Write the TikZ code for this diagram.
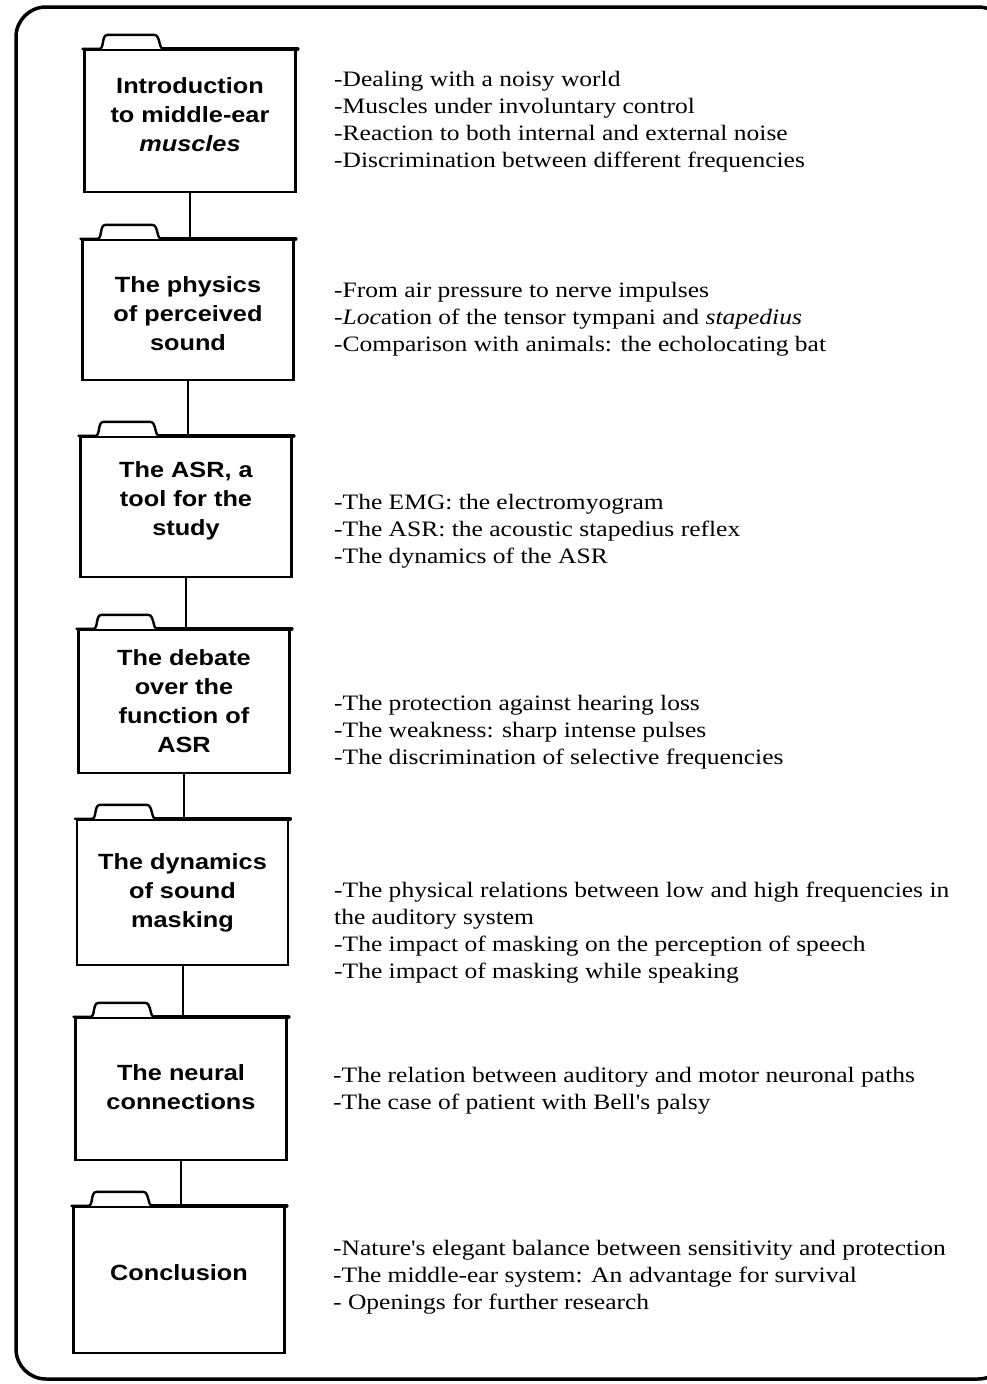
\documentclass[tikz,border=0pt]{standalone}
\usepackage{fontspec}
\newfontfamily\rt[FakeStretch=1.16]{Liberation Serif}
\newfontfamily\bx[FakeStretch=1.15]{Liberation Sans}
\newcommand\foldtab[1]{%
  \draw[tabline] ([xshift=-1pt]#1.north west) -- ++(17,0) .. controls +(5,0) and +(-6,0) .. ++(8,-14) -- ++(47,0) .. controls +(6,0) and +(-5,0) .. ++(9,14);
  \draw[topline] ([xshift=80pt]#1.north west) -- ([xshift=1pt]#1.north east);}
\begin{document}
\begin{tikzpicture}[x=1pt,y=-1pt,
  fold/.style={draw, line width=2.2pt, minimum width=211pt, inner sep=0pt},
  boxtext/.style={inner sep=0pt, align=center,
    font=\bx\bfseries\fontsize{22}{29}\selectfont},
  tabline/.style={line width=2.4pt, line join=round, line cap=round},
  topline/.style={line width=4pt, line cap=round},
  link/.style={line width=2pt},
  notes/.style={anchor=north west, inner sep=0pt, align=left,
    font=\rt\fontsize{22}{27}\selectfont}]
\useasboundingbox (0,0) rectangle (987,1384);
\clip (0,0) rectangle (987,1384);
\draw[line width=3.5pt, rounded corners=30pt] (16,7) rectangle (1008,1379);

\node[fold, minimum height=142pt] (b1) at (190,121) {};
\node[fold, minimum height=140pt] (b2) at (188,310) {};
\node[fold, minimum height=140pt] (b3) at (186,507) {};
\node[fold, minimum height=143pt] (b4) at (184,701.5) {};
\node[fold, minimum height=145pt] (b5) at (182.5,892.5) {};
\node[fold, minimum height=142pt] (b6) at (181,1089) {};
\node[fold, minimum height=146pt] (b7) at (179,1280) {};
\foreach \b in {b1,b2,b3,b4,b5,b6,b7}{\foldtab{\b}}

\node[boxtext] (t1) at ([yshift=6pt]b1.center) {Introduction\\to middle-ear\\{\itshape muscles}};
\node[boxtext] (t2) at ([yshift=-4pt]b2.center) {The  physics\\of perceived\\sound};
\node[boxtext] (t3) at ([yshift=6pt]b3.center) {The ASR, a\\tool for the\\study};
\node[boxtext] (t4) at (b4.center) {The debate\\over the\\function of\\ASR};
\node[boxtext] (t5) at (b5.center) {The dynamics\\of sound\\masking};
\node[boxtext] (t6) at ([yshift=2pt]b6.center) {The neural\\connections};
\node[boxtext] (t7) at ([yshift=7pt]b7.center) {Conclusion};

\draw[link] (b1.south) -- (b1.south |- b2.north);
\draw[link] (b2.south) -- (b2.south |- b3.north);
\draw[link] (b3.south) -- (b3.south |- b4.north);
\draw[link] (b4.south) -- (b4.south |- b5.north);
\draw[link] (b5.south) -- (b5.south |- b6.north);
\draw[link] (b6.south) -- (b6.south |- b7.north);

\node[notes] (n1) at (334,71) {-Dealing with a noisy world\\-Muscles under involuntary control\\-Reaction to both internal and external noise\\-Discrimination between different frequencies};
\node[notes] (n2) at (334,282) {-From air pressure to nerve impulses\\-{\itshape Loc}ation of the tensor tympani and {\itshape stapedius}\\-Comparison with animals: the echolocating bat};
\node[notes] (n3) at (334,494) {-The EMG: the electromyogram\\-The ASR: the acoustic stapedius reflex\\-The dynamics of the ASR};
\node[notes] (n4) at (334,695) {-The protection against hearing loss\\-The weakness: sharp intense pulses\\-The discrimination of selective frequencies};
\node[notes] (n5) at (334,882) {-The physical relations between low and high frequencies in\\the auditory system\\-The impact of masking on  the perception of speech\\-The impact of masking while speaking};
\node[notes] (n6) at (333,1067) {-The relation between auditory and motor neuronal paths\\-The case of  patient with Bell's palsy};
\node[notes] (n7) at (333,1240) {-Nature's elegant balance between sensitivity and protection\\-The middle-ear system: An advantage for survival\\- Openings for further research};
\end{tikzpicture}
\end{document}
